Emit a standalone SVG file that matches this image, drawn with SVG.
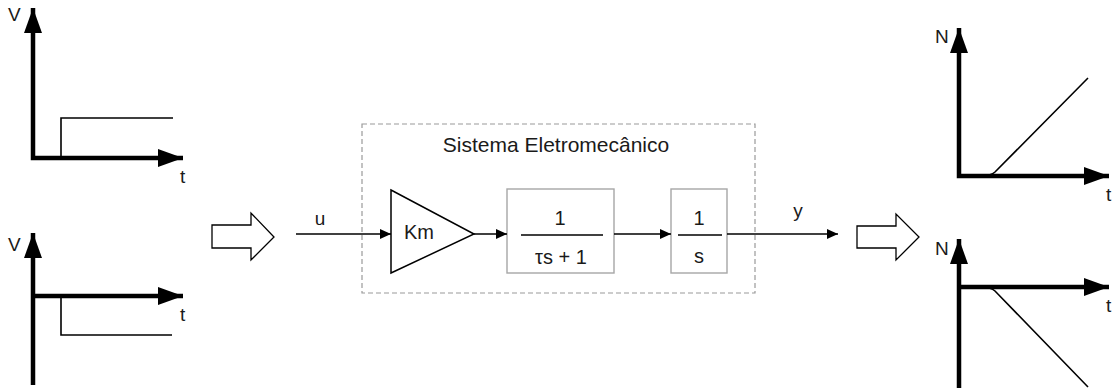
<svg xmlns="http://www.w3.org/2000/svg" width="1115" height="392" viewBox="0 0 1115 392">
<style>
text{font-family:"Liberation Sans",Arial,sans-serif;fill:#1a1a1a}
.axis{fill:none;stroke:#000;stroke-width:4.5}
.sig{fill:none;stroke:#000;stroke-width:1.6}
.lbl{font-size:19px}
.blk{fill:#fff;stroke:#a6a6a6;stroke-width:1.4}
.wire{fill:none;stroke:#000;stroke-width:1.5}
.hollow{fill:#fff;stroke:#000;stroke-width:1.3}
.frac{font-size:20px;text-anchor:middle}
</style>
<defs>
<marker id="ax" markerUnits="userSpaceOnUse" markerWidth="26" markerHeight="18" refX="25" refY="9" orient="auto-start-reverse">
<path d="M0,0 L25,9 L0,18 z" fill="#000"/>
</marker>
<marker id="ar" markerUnits="userSpaceOnUse" markerWidth="12" markerHeight="10" refX="11" refY="5" orient="auto">
<path d="M0,0 L11,5 L0,10 z" fill="#000"/>
</marker>
</defs>

<g id="plot-v-pos">
<polyline class="axis" points="33,8 33,158 183,158" marker-start="url(#ax)" marker-end="url(#ax)"/>
<polyline class="sig" points="61,158 61,118 173,118"/>
<text class="lbl" x="8" y="21">V</text>
<text class="lbl" x="180" y="183">t</text>
</g>

<g id="plot-v-neg">
<line class="axis" x1="33" y1="385" x2="33" y2="233" marker-end="url(#ax)"/>
<line class="axis" x1="31" y1="296" x2="183" y2="296" marker-end="url(#ax)"/>
<polyline class="sig" points="61,296 61,335 172,335"/>
<text class="lbl" x="8" y="251">V</text>
<text class="lbl" x="180" y="321">t</text>
</g>

<g id="arrow-in">
<polygon class="hollow" points="212,225 251,225 251,213 274,237 251,260 251,248 212,248"/>
</g>

<g id="sistema">
<rect x="362" y="124" width="393" height="169" fill="none" stroke="#9a9a9a" stroke-width="1.2" stroke-dasharray="5,3"/>
<text x="556" y="152" font-size="21" text-anchor="middle">Sistema Eletromecânico</text>
</g>

<g id="gain">
<polygon points="391,190 474,234 391,273" fill="#fff" stroke="#000" stroke-width="1.5"/>
<text x="404" y="239" font-size="20">Km</text>
</g>

<g id="block-tau">
<rect class="blk" x="507" y="189" width="107" height="84"/>
<line x1="521" y1="235" x2="603" y2="235" stroke="#000" stroke-width="1.6"/>
<text class="frac" x="560" y="225">1</text>
<text class="frac" x="561" y="264">τs + 1</text>
</g>

<g id="block-int">
<rect class="blk" x="671" y="189" width="56" height="84"/>
<line x1="678" y1="235" x2="722" y2="235" stroke="#000" stroke-width="1.6"/>
<text class="frac" x="699" y="225">1</text>
<text class="frac" x="699" y="263">s</text>
</g>

<g id="connectors">
<line class="wire" x1="296" y1="234" x2="391" y2="234" marker-end="url(#ar)"/>
<line class="wire" x1="474" y1="234" x2="507" y2="234" marker-end="url(#ar)"/>
<line class="wire" x1="614" y1="234" x2="671" y2="234" marker-end="url(#ar)"/>
<line class="wire" x1="727" y1="234" x2="838" y2="234" marker-end="url(#ar)"/>
<text x="320" y="225" font-size="19" text-anchor="middle">u</text>
<text x="798" y="217" font-size="19" text-anchor="middle">y</text>
</g>

<g id="arrow-out">
<polygon class="hollow" points="857,226 896,226 896,214 919,237 896,260 896,248 857,248"/>
</g>

<g id="plot-n-pos">
<polyline class="axis" points="959,28 959,176 1109,176" marker-start="url(#ax)" marker-end="url(#ax)"/>
<path class="sig" d="M983,176 Q991,175.5 995,172 L1088,78"/>
<text class="lbl" x="935" y="43">N</text>
<text class="lbl" x="1106" y="201">t</text>
</g>

<g id="plot-n-neg">
<line class="axis" x1="959" y1="388" x2="959" y2="239" marker-end="url(#ax)"/>
<line class="axis" x1="957" y1="287" x2="1109" y2="287" marker-end="url(#ax)"/>
<path class="sig" d="M983,287 Q991,287.5 995,291 L1088,387"/>
<text class="lbl" x="935" y="255">N</text>
<text class="lbl" x="1106" y="312">t</text>
</g>
</svg>
